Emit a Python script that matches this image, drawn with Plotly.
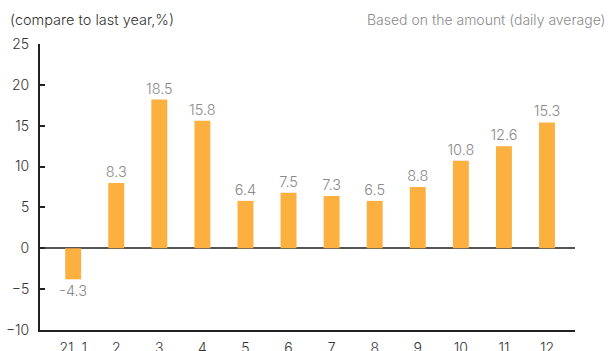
import plotly.graph_objects as go

categories = ["21. 1", "2", "3", "4", "5", "6", "7", "8", "9", "10", "11", "12"]
bar_values = [-3.8, 8.0, 18.2, 15.6, 5.8, 6.8, 6.4, 5.8, 7.5, 10.7, 12.5, 15.4]
label_texts = ["-4.3", "8.3", "18.5", "15.8", "6.4", "7.5", "7.3", "6.5", "8.8", "10.8", "12.6", "15.3"]
y_ticks = [-10, -5, 0, 5, 10, 15, 20, 25]

FONT = "Inter"

fig = go.Figure()
fig.add_trace(go.Bar(
    x=categories,
    y=bar_values,
    text=label_texts,
    textposition="outside",
    constraintext="none",
    textfont=dict(family=FONT, size=14.5, color="#8a8a8a", weight=300),
    marker=dict(color="#FBB040", line=dict(width=0)),
    width=0.37,
    cliponaxis=False,
    hoverinfo="skip",
))

fig.update_layout(
    width=614, height=351,
    margin=dict(l=40, r=39, t=44, b=21),
    paper_bgcolor="white", plot_bgcolor="white",
    showlegend=False,
    font=dict(family=FONT, color="#333333"),
    uniformtext=dict(mode=False),
    xaxis=dict(
        type="category",
        range=[-0.77, 11.65],
        automargin=False,
        showgrid=False,
        showline=True, linecolor="#222222", linewidth=2,
        ticks="",
        tickfont=dict(family=FONT, size=14, color="#333333", weight=300),
        ticklabelstandoff=4,
        zeroline=False,
    ),
    yaxis=dict(
        range=[-10, 25],
        automargin=False,
        tickvals=y_ticks,
        showgrid=False,
        showline=True, linecolor="#222222", linewidth=2,
        ticks="inside", ticklen=5, tickwidth=2, tickcolor="#222222",
        tickfont=dict(family=FONT, size=14, color="#333333", weight=300),
        ticklabelstandoff=6,
        zeroline=True, zerolinecolor="#555555", zerolinewidth=2,
    ),
    annotations=[
        dict(text="(compare to last year,%)", xref="paper", yref="paper",
             x=(8 - 40) / 535, y=(330 - 20) / 286, xanchor="left", yanchor="middle",
             showarrow=False, font=dict(family=FONT, size=14.5, color="#333333", weight=300)),
        dict(text="Based on the amount (daily average)", xref="paper", yref="paper",
             x=(607 - 40) / 535, y=(330 - 20) / 286, xanchor="right", yanchor="middle",
             showarrow=False, font=dict(family=FONT, size=14, color="#8a8a8a", weight=300)),
    ],
)

fig.write_html("out.html")
